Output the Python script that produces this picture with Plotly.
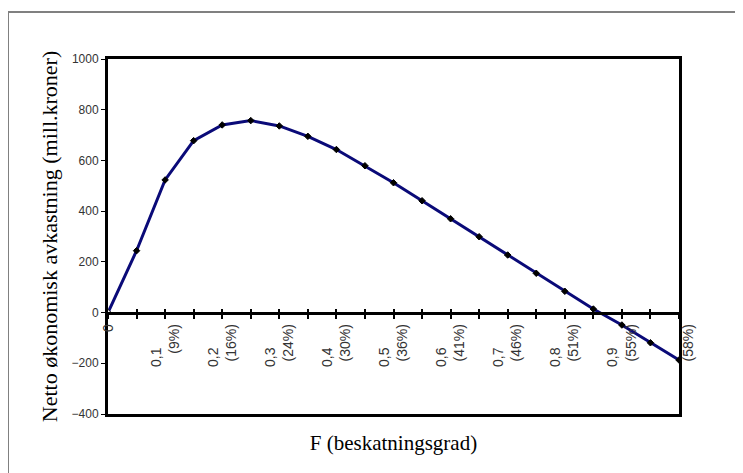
import plotly.graph_objects as go

# Data
F = [0.00, 0.05, 0.10, 0.15, 0.20, 0.25, 0.30, 0.35, 0.40, 0.45, 0.50,
     0.55, 0.60, 0.65, 0.70, 0.75, 0.80, 0.85, 0.90, 0.95, 1.00]
netto = [0, 244, 523, 678, 740, 757, 736, 695, 643, 579, 512,
         441, 370, 299, 227, 155, 84, 14, -49, -119, -187]

tick_vals = F
tick_text = ["0", "", "0,1<br>(9%)", "", "0,2<br>(16%)", "", "0,3<br>(24%)", "",
             "0,4<br>(30%)", "", "0,5<br>(36%)", "", "0,6<br>(41%)", "",
             "0,7<br>(46%)", "", "0,8<br>(51%)", "", "0,9<br>(55%)", "",
             "\u00a0<br>(58%)"]
y_ticks = [-400, -200, 0, 200, 400, 600, 800, 1000]

x_title = "F (beskatningsgrad)"
y_title = "Netto økonomisk avkastning (mill.kroner)"

# the page body adds an 8px offset; compensate so the plot lands where the reference has it
OFF = 8
W, H = 743 - OFF, 473 - OFF
L, T = 108 - OFF, 59 - OFF
pw, ph = 571, 355
R, B = W - L - pw, H - T - ph
ymin, ymax = -400, 1000
zero_pos = (0 - ymin) / (ymax - ymin)

# pad number part of labels so it sits lower like the reference
pad = "\u00a0" * 6
tick_text = [t.replace("<br>", pad + "<br>", 1) if t.startswith("0,") else t for t in tick_text]

fig = go.Figure()
fig.add_trace(go.Scatter(
    x=F, y=netto, mode="lines+markers",
    line=dict(color="#0a0a78", width=3),
    marker=dict(symbol="diamond", size=5,
                color=["white"] + ["black"] * (len(F) - 1),
                line=dict(color="black", width=1)),
    hoverinfo="x+y", showlegend=False))
fig.add_trace(go.Scatter(x=[None], y=[None], xaxis="x2", showlegend=False, hoverinfo="skip"))
fig.add_trace(go.Scatter(x=[None], y=[None], xaxis="x3", showlegend=False, hoverinfo="skip"))

def px_to_paper_x(px):
    return (px - OFF - L) / pw

def px_to_paper_y(py):
    return (T + ph - (py - OFF)) / ph

fig.update_layout(
    width=W, height=H,
    margin=dict(l=L, r=R, t=T, b=B, autoexpand=False),
    paper_bgcolor="white", plot_bgcolor="white",
    showlegend=False,
    xaxis=dict(range=[0, 1], showgrid=False, zeroline=False,
               showline=True, mirror=True, linecolor="black", linewidth=3,
               ticks="", showticklabels=False,
               title=dict(text=x_title + "\u00a0" * 4, standoff=20,
                          font=dict(family="Liberation Serif", size=21, color="black"))),
    xaxis2=dict(range=[0, 1], overlaying="x", anchor="free", position=zero_pos,
                showgrid=False, zeroline=False,
                showline=True, linecolor="black", linewidth=3,
                tickmode="array", tickvals=tick_vals, ticktext=tick_text,
                ticks="outside", ticklen=4, tickwidth=2, tickcolor="black",
                tickangle=-90,
                tickfont=dict(family="Liberation Sans", size=14, color="#333333")),
    xaxis3=dict(range=[0, 1], overlaying="x", anchor="free", position=zero_pos,
                showgrid=False, zeroline=False, showline=False,
                tickmode="array", tickvals=tick_vals,
                ticks="inside", ticklen=4, tickwidth=2, tickcolor="black",
                showticklabels=False),
    yaxis=dict(range=[ymin, ymax], showgrid=False, zeroline=False,
               showline=True, mirror=True, linecolor="black", linewidth=3,
               tickmode="array", tickvals=y_ticks,
               ticks="outside", ticklen=4, tickwidth=1, tickcolor="black",
               tickfont=dict(family="Liberation Sans", size=12, color="#333333"),
               title=dict(text=y_title, standoff=8,
                          font=dict(family="Liberation Serif", size=22, color="black"))),
    shapes=[dict(type="rect", xref="paper", yref="paper",
                 x0=px_to_paper_x(8), x1=px_to_paper_x(800),
                 y0=px_to_paper_y(520), y1=px_to_paper_y(12),
                 line=dict(color="#808080", width=2), layer="below")],
)

fig.write_html("out.html")
